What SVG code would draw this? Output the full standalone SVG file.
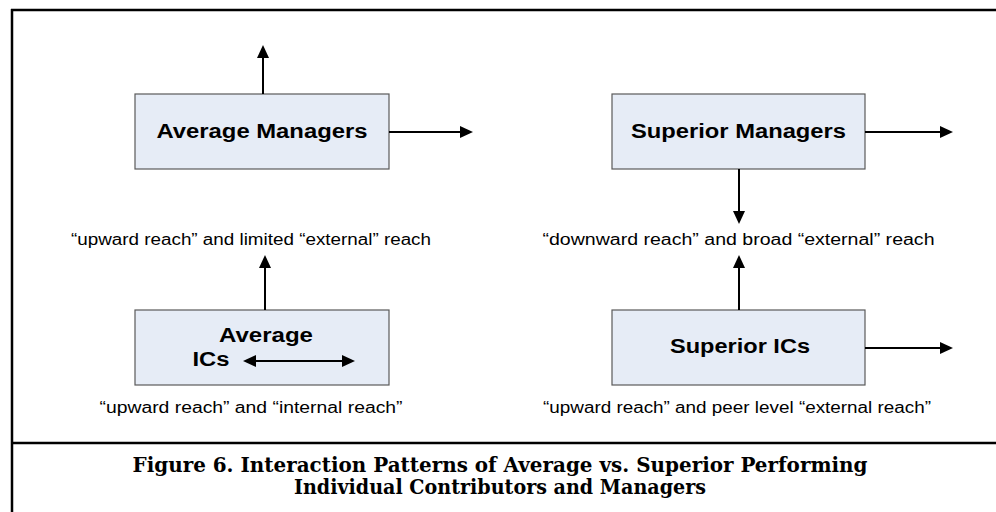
<svg xmlns="http://www.w3.org/2000/svg" width="996" height="512" viewBox="0 0 996 512">
<style>
.frame{stroke:#000;stroke-width:2.5;fill:none}
.box{fill:#E6ECF6;stroke:#5a5a5a;stroke-width:1.2}
.title{font-family:"Liberation Sans",Arial,sans-serif;font-weight:bold;font-size:20px;fill:#000;text-anchor:middle}
.lbl{font-family:"Liberation Sans",Arial,sans-serif;font-size:16px;fill:#000;text-anchor:middle}
.cap{font-family:"DejaVu Serif","Liberation Serif",serif;font-weight:bold;font-size:19.5px;fill:#000;text-anchor:middle}
.arr{stroke:#000;stroke-width:2;fill:none;marker-end:url(#ah)}
</style>
<defs>
<marker id="ah" markerUnits="userSpaceOnUse" markerWidth="14" markerHeight="12" refX="1" refY="6" orient="auto-start-reverse">
<path d="M0,0 L13,6 L0,12 z" fill="#000"/>
</marker>
</defs>
<rect width="996" height="512" fill="#fff"/>
<g id="frame">
<line class="frame" x1="11" y1="10" x2="996" y2="10"/>
<line class="frame" x1="12" y1="9" x2="12" y2="512"/>
<line class="frame" x1="11" y1="443" x2="996" y2="443"/>
</g>
<g id="average-managers">
<rect class="box" x="135" y="94" width="254" height="75"/>
<text class="title" x="262" y="138" textLength="211" lengthAdjust="spacingAndGlyphs">Average Managers</text>
</g>
<g id="superior-managers">
<rect class="box" x="612" y="94" width="253" height="75"/>
<text class="title" x="738.5" y="138" textLength="215" lengthAdjust="spacingAndGlyphs">Superior Managers</text>
</g>
<g id="average-ics">
<rect class="box" x="135" y="310" width="254" height="75"/>
<text class="title" x="266" y="342" textLength="94" lengthAdjust="spacingAndGlyphs">Average</text>
<text class="title" x="211" y="366" textLength="37" lengthAdjust="spacingAndGlyphs">ICs</text>
</g>
<g id="superior-ics">
<rect class="box" x="612" y="310" width="253" height="75"/>
<text class="title" x="740" y="353" textLength="140" lengthAdjust="spacingAndGlyphs">Superior ICs</text>
</g>
<g id="connectors">
<line class="arr" x1="263" y1="94" x2="263" y2="57"/>
<line class="arr" x1="389" y1="132" x2="461" y2="132"/>
<line class="arr" x1="865" y1="132" x2="941" y2="132"/>
<line class="arr" x1="739" y1="169" x2="739" y2="212"/>
<line class="arr" x1="265" y1="310" x2="265" y2="267"/>
<line class="arr" x1="739" y1="310" x2="739" y2="267"/>
<line class="arr" x1="865" y1="348" x2="941" y2="348"/>
<line class="arr" x1="255" y1="361" x2="343" y2="361" style="marker-start:url(#ah)"/>
</g>
<g id="labels">
<text class="lbl" x="251" y="245" textLength="360" lengthAdjust="spacingAndGlyphs">“upward reach” and limited “external” reach</text>
<text class="lbl" x="738.5" y="245" textLength="392" lengthAdjust="spacingAndGlyphs">“downward reach” and broad “external” reach</text>
<text class="lbl" x="251" y="413" textLength="303" lengthAdjust="spacingAndGlyphs">“upward reach” and “internal reach”</text>
<text class="lbl" x="737" y="413" textLength="388" lengthAdjust="spacingAndGlyphs">“upward reach” and peer level “external reach”</text>
</g>
<g id="caption">
<text class="cap" x="500" y="472" textLength="735" lengthAdjust="spacingAndGlyphs">Figure 6. Interaction Patterns of Average vs. Superior Performing</text>
<text class="cap" x="500" y="494" textLength="412" lengthAdjust="spacingAndGlyphs">Individual Contributors and Managers</text>
</g>
</svg>
